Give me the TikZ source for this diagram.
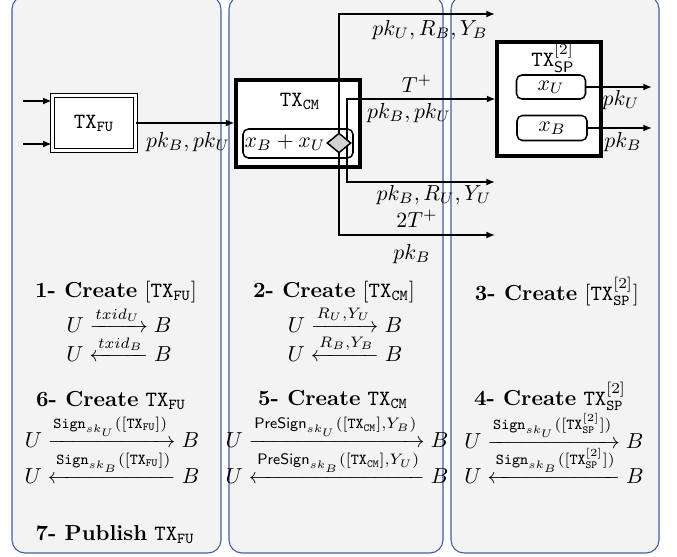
\documentclass[tikz,border=0pt]{standalone}
\usepackage{amsmath}
\usetikzlibrary{arrows.meta,shapes.geometric}
\definecolor{panelfill}{HTML}{F3F3F3}
\definecolor{panelline}{HTML}{3F5FA0}
\definecolor{diafill}{HTML}{D3D3D3}
\newcommand{\ttx}[1]{\mathtt{TX}_{\mathtt{#1}}}
\newcommand{\ttsp}{\mathtt{TX}^{[2]}_{\mathtt{SP}}}
\newcommand{\pxu}{0.46pt}
\tikzset{
  panel/.style={draw=panelline, fill=panelfill, line width=0.5pt, rounded corners=6pt},
  tip/.tip={Latex[length=4pt,width=3.2pt]},
  conn/.style={line width=0.7pt, -tip},
  dconn/.style={line width=0.7pt, tip-tip},
  bigbox/.style={draw, fill=white, line width=1.4pt, inner sep=0pt},
  keybox/.style={draw, fill=white, rounded corners=2.5pt, line width=0.7pt, inner sep=0pt},
  lbl/.style={inner sep=0pt},
  bl/.style={inner sep=0pt, anchor=base},
}
\begin{document}
\begin{tikzpicture}[x=0.46pt,y=-0.46pt]
\useasboundingbox (0,0) rectangle (677,556);
% panels
\draw[panel] (12,-4) rectangle (221,553);
\draw[panel] (229,-4) rectangle (443,553);
\draw[panel] (451,-4) rectangle (659,553);

% TX_FU
\node[draw, double, double distance=1pt, line width=0.7pt, fill=white,
      minimum width=83*\pxu, minimum height=55*\pxu, inner sep=0pt] (txfu) at (94,123) {$\ttx{FU}$};
\coordinate (ina) at (23,101);
\coordinate (inb) at (23,144);
\draw[conn] (ina) -- (ina -| txfu.west);
\draw[conn] (inb) -- (inb -| txfu.west);

% TX_CM
\node[bigbox, minimum width=124*\pxu, minimum height=87*\pxu] (txcm) at (298,123.5) {};
\node[lbl] (cmlabel) at (300,101) {$\ttx{CM}$};
\node[keybox, minimum width=110*\pxu, minimum height=29*\pxu] (sumbox) at (298,143.5) {};
\node[lbl] (sumtxt) at (285,143) {$x_B + x_U$};

\draw[conn] (txfu.east) -- (txfu.east -| txcm.west);
\node[lbl] (l0) at (188,142) {$pk_B, pk_U$};

% TX_SP
\node[bigbox, minimum width=104*\pxu, minimum height=114*\pxu] (txsp) at (549,99) {};
\node[lbl] (splabel) at (553,58) {$\mathtt{TX}^{[2]}_{\mathsf{SP}}$};
\node[keybox, minimum width=69*\pxu, minimum height=24*\pxu] (xu) at (551,87) {$x_U$};
\node[keybox, minimum width=70*\pxu, minimum height=25*\pxu] (xb) at (552,128) {$x_B$};
\coordinate (ou) at (652,87);
\coordinate (ob) at (652,128);
\draw[conn] (xu.east) -- (ou);
\draw[conn] (xb.east) -- (ob);
\node[lbl] (lu) at (621,100) {$pk_U$};
\node[lbl] (lb) at (623,142) {$pk_B$};

% branching lines from the diamond
\coordinate (a1) at (495,14);
\coordinate (c1) at (339,14);
\coordinate (c4) at (339,235);
\coordinate (a4) at (495,235);
\coordinate (b1) at (347,99);
\coordinate (b3) at (347,182);
\coordinate (a3) at (495,182);
\draw[dconn] (a1) -- (c1) -- (c4) -- (a4);
\draw[dconn] (txsp.west) -- (b1) -- (b3) -- (a3);
\node[diamond, draw, fill=diafill, line width=0.7pt, minimum width=24*\pxu,
      minimum height=20*\pxu, inner sep=0pt] (dia) at (339,143) {};

\node[lbl] (t1) at (430,30) {$pk_U, R_B, Y_B$};
\node[lbl] (t2) at (417,84) {$T^{+}$};
\node[lbl] (t3) at (409,113) {$pk_B, pk_U$};
\node[lbl] (t4) at (434,195) {$pk_B, R_U, Y_U$};
\node[lbl] (t5) at (417,219) {$2T^{+}$};
\node[lbl] (t6) at (412,254) {$pk_B$};

% panel 1 texts
\node[bl] (s1) at (116,297) {\textbf{1- Create} $[\ttx{FU}]$};
\node[bl] (s1a) at (119,332) {$U \xrightarrow{txid_U} B$};
\node[bl] (s1b) at (119,361) {$U \xleftarrow{txid_B} B$};
\node[bl] (s6) at (111,406) {\textbf{6- Create} $\ttx{FU}$};
\node[bl] (s6a) at (112,447) {$U \xrightarrow{\mathtt{Sign}_{sk_U}([\ttx{FU}])} B$};
\node[bl] (s6b) at (112,483) {$U \xleftarrow{\mathtt{Sign}_{sk_B}([\ttx{FU}])} B$};
\node[bl] (s7) at (115,540) {\textbf{7- Publish} $\ttx{FU}$};

% panel 2 texts
\node[bl] (s2) at (334,297) {\textbf{2- Create} $[\ttx{CM}]$};
\node[bl] (s2a) at (345,332) {$U \xrightarrow{R_U,Y_U} B$};
\node[bl] (s2b) at (345,361) {$U \xleftarrow{R_B,Y_B} B$};
\node[bl] (s5) at (333,405) {\textbf{5- Create} $\ttx{CM}$};
\node[bl] (s5a) at (337,447) {$U \xrightarrow{\mathsf{PreSign}_{sk_U}([\ttx{CM}],Y_B)} B$};
\node[bl] (s5b) at (337,483) {$U \xleftarrow{\mathsf{PreSign}_{sk_B}([\ttx{CM}],Y_U)} B$};

% panel 3 texts
\node[bl] (s3) at (557,300) {\textbf{3- Create} $[\ttsp]$};
\node[bl] (s4) at (550,405) {\textbf{4- Create} $\ttsp$};
\node[bl] (s4a) at (554,448) {$U \xrightarrow{\mathtt{Sign}_{sk_U}([\ttsp])} B$};
\node[bl] (s4b) at (554,483) {$U \xleftarrow{\mathtt{Sign}_{sk_B}([\ttsp])} B$};
\end{tikzpicture}
\end{document}
